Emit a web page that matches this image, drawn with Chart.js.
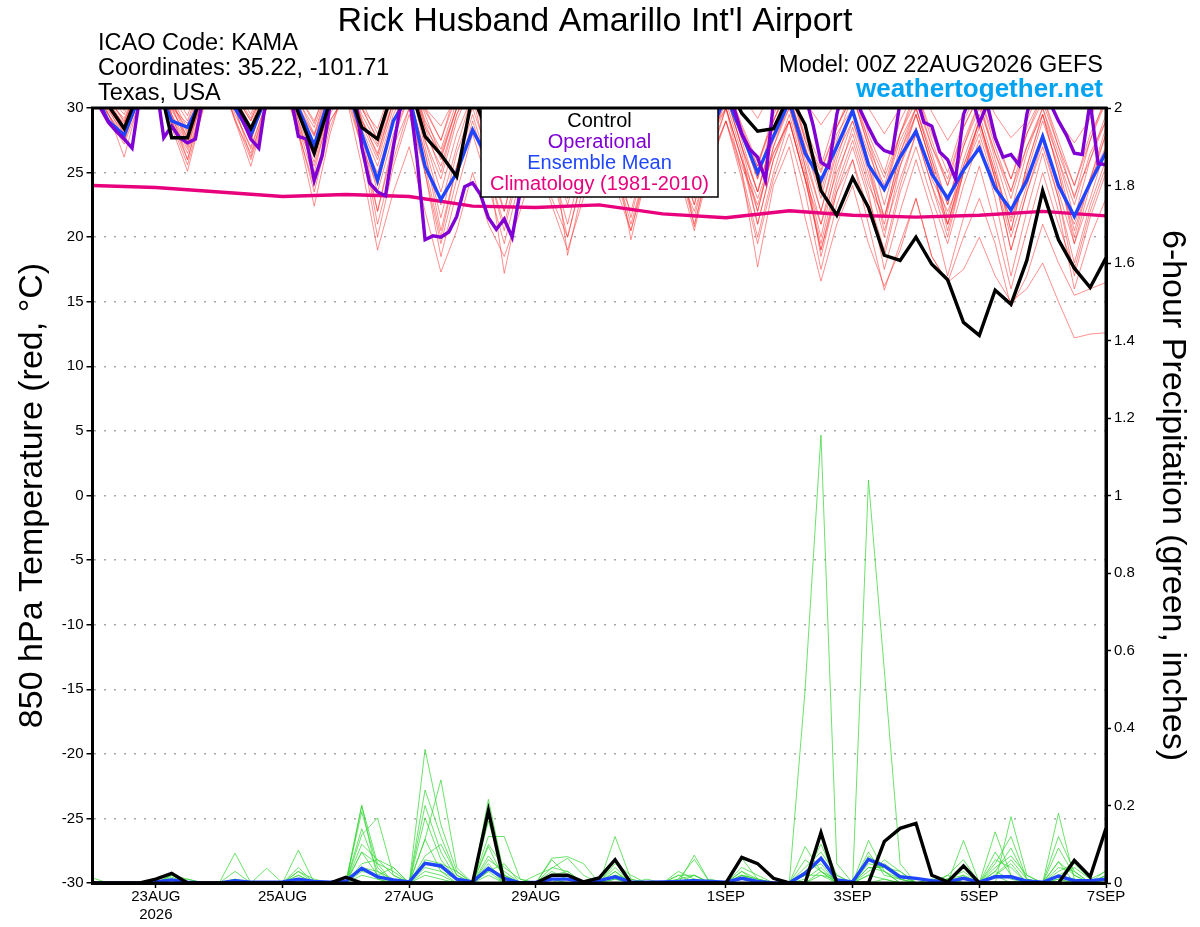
<!DOCTYPE html>
<html>
<head>
<meta charset="utf-8">
<title>KAMA GEFS 850 hPa temperature and 6-hour precipitation</title>
<script src="https://cdn.jsdelivr.net/npm/chart.js@4.4.1/dist/chart.umd.min.js"></script>
<style>
  html, body { margin: 0; padding: 0; background: #fff; }
  #wrap { width: 1200px; height: 927px; }
</style>
</head>
<body>
<div id="wrap"><canvas id="myChart" width="1200" height="927"></canvas></div>
<script>
const FONT = "'Liberation Sans', Arial, Helvetica, sans-serif";

// x axis is in 6-hour steps from 00Z 22AUG2026 (0) to 00Z 7SEP2026 (64)
const xTickSteps = [4, 12, 20, 28, 40, 48, 56, 64];
const xTickLabels = [['23AUG', '2026'], '25AUG', '27AUG', '29AUG', '1SEP', '3SEP', '5SEP', '7SEP'];

// 850 hPa temperature (C), 6-hourly
const controlTemp = [33,30.2,28.4,31.5, 33,27.7,27.7,31.5, 33,30.5,28.4,31, 33,29.6,26.5,30.5,
  32,28.5,27.6,31.5, 32,27.8,26.4,24.7, 31,28,26,29, 32,30,27,29, 32,30,27,29, 32,30,27,29,
  32,29.6,28.2,28.4, 31,28.7,23.6,21.7, 24.6,22.3,18.6,18.2, 20.0,17.9,16.7,13.4,
  12.4,15.9,14.8,18.2, 23.6,19.8,17.6,16.1, 18.4];
const meanTemp = [31.5,29,27.9,31, 32,29.0,28.5,31, 32,30,27.9,31, 32,30,27.1,31,
  32,28,24.4,29, 31,25.5,22.9,25.0, 28.3,26,25,28, 30,28,26,28, 30,28,26,28, 30,28,26,28,
  31,28,25.0,27.8, 30.5,26.5,24.4,27, 29.8,25.6,23.7,26.2, 28.2,24.9,23.0,25.2,
  26.9,23.8,22.1,24.4, 27.8,24.0,21.6,24.2, 26.6];
// operational run, 3-hourly
const operationalTemp = [31,30,28.9,28.2,27.6,26.9,31,33, 32,27.7,28.6,27.7,27.3,27.6,31,33,
  33,32,31,29,27.6,26.9,31,33, 32,31,27.8,27.6,24.4,26.3,30.2,33,
  33,32,27,24.2,23.5,23.2,27,30.5, 31,26,19.8,20.1,20.0,20.4,21.6,23.9,
  24.2,23.3,21.5,20.6,21.4,20.0,23.5,27, 31,32,30,28,26,27.5,30,32,
  33,32,30,28,26.5,28,30.5,32, 33,32,30,28,26,27.5,30,32,
  32,30,28,26.8,26.2,24.4,30.5,33, 33,32,31,28.7,25.8,25.4,29.5,32,
  33,29.8,28.5,27.3,26.7,26.5,30.5,32, 31,28.9,28.6,26.6,26.0,24.5,29.5,31,
  28.8,30.3,27.7,26.2,26.4,25.6,29.5,32, 31,30.3,29.0,27.9,26.5,26.4,30.5,25.7, 25.6];
// climatology 1981-2010, daily at 00Z
const climTemp = [24.0,23.85,23.5,23.15,23.3,23.15,22.4,22.3,22.5,21.8,21.5,22.05,21.7,21.55,21.7,22.0,21.65];

// ensemble members, 850 hPa temperature
const tempM01 = [32,30.5,29.2,32, 34,30,28.8,32, 34,31,29,32, 34,30.5,28.5,32, 34,30,28.4,32, 34,30,28.6,31, 33,30,28.5,31, 34,31,28.7,31.5, 34,31,29,32, 34,31,28.8,32, 34,31,29.2,31.5, 33,30.5,28.7,30.5, 33,30,28,30, 33,29.7,27.5,29.5, 32,29.5,27.7,29, 32,29,27.3,29.2, 32];
const tempM02 = [31.5,29.8,28.0,31, 33,29,26.5,30.5, 33,30,27.5,31, 33,29.5,26.8,30.5, 33,28.8,26.0,30, 33,28,25.5,29.5, 32,28.5,26.0,29.8, 33,29.5,27,30, 33,30,27.5,30.5, 33,29,26.5,30, 32,28.7,25.8,29, 32,27.8,25.2,28.5, 31,27.5,24.6,28, 31,27,24,27.4, 30.5,26.5,23.6,27, 30,26.5,23.2,26, 29];
const tempM03 = [32,30,27.6,31.5, 33,29.5,27.3,31, 33,30,27.8,31, 32,28,24.0,29, 31,25.5,19.0,23.5, 27,22,17.3,20.5, 25,21,18.5,22, 26,22.5,19,23, 27,24,20.5,25, 28,25,22,26, 29,25.5,22.5,26.5, 29,24.5,21,25, 28,24,21.5,25.5, 28.5,24.5,22,25, 28,24,21.5,24.8, 27.5,24,21,24.5, 27];
const tempM04 = [33,30.4,28.6,32, 34,29.8,27.8,31.5, 33,30.6,28.3,31, 33,29,26.2,30, 32,27.5,25.0,29, 32,27,22.5,27, 31,25.5,17.2,23, 27,23,20,25, 30,26.5,24,28, 31,27.5,24,28, 30,25,17.7,24, 27,21.5,16.6,21, 24,19.5,16.2,19, 23,18.5,16.5,20, 23,19.5,14.6,17, 21,18,15.5,16, 16.5];
const tempM05 = [32.5,30,28.2,31.5, 33.5,30.5,28,31.5, 33.5,30,27.6,31, 33,30,27.8,31, 33,29,27,30.5, 33,28.5,26.5,30, 32,28,25,28.5, 31,27,24.5,28, 31,27.5,24.5,28.5, 31,27,24,27.5, 30,26,23,26.5, 29,24.5,19,23.5, 26,21,15.9,19.5, 23,18.5,16.5,17.5, 20,17,15,16, 18,15,12.2,12.5, 12.6];
const tempM06 = [31,29.5,27.8,31, 33,28.5,25.1,30, 33,29,25.5,30, 33,28,22.4,28, 32,27,24,29, 32,27.5,23.5,28, 31,27,23.5,27.5, 31,27.5,18.6,24, 29,25,22,26.5, 30,26,22.5,27, 31,27,23.5,28, 31,26.5,22,27, 30,26,21.5,26.5, 29.5,25.5,21,25, 29,24.5,20,24, 28,23.5,19.5,23, 27];
const tempM07 = [32,30.2,28.8,31.5, 34,30.5,28.2,32, 34,30.8,28.6,32, 34,30.2,27.9,31.5, 33,29.5,27.2,31, 33,29,26.8,30.5, 33,29.5,27,31, 33,30,27.5,31, 32.5,29,25.5,29.5, 31,27.5,24.5,28.5, 31,27,23.5,27.5, 30,26,22,26.5, 29,25.5,20.5,24.5, 28,24,21,25.5, 29,25,21.2,25, 29,25.5,20.5,24.5, 28];
const tempM08 = [31.8,29.6,26.2,30.8, 33,29.2,26.8,31, 33,29.5,27,30.5, 32,28.5,25.5,29.5, 32,27.5,21,26, 30,25,19.5,24.5, 29,25,21,26, 30,26.5,22.5,27, 30,26.5,19.8,25, 29,25.5,21,26, 29,25,20,25, 29,24.5,19.5,24.5, 28.5,24.5,20,25.5, 29.5,25.5,21,25.5, 29,25,20.5,25.5, 29.5,25,19.5,24, 28];
const tempM09 = [32.2,30.8,29.0,32, 34,30.2,27.2,31.5, 34,30.4,27.9,31.5, 33,29.6,27.0,31, 33,28.4,25.5,29.5, 32,27.5,24.5,29, 32,28,24.5,29, 32,28.5,25,29.5, 32,28,24.5,29, 31,27,20.8,26, 30,26,22,27, 30.5,25.5,21,26, 30,25.5,21.5,26.5, 30,26.5,22.5,27, 30.5,26,22,26.5, 30,26,21.5,26, 29.5];
const tempM10 = [32.8,31,29.5,32.5, 34,31,29,32.5, 34,31.2,29.2,32.5, 34,31,29,32, 34,30.5,28,31.5, 34,30,27.5,31, 33,29.5,27,30.5, 33,29.5,26.5,30, 32.5,29,26,29.5, 32,28.5,25.5,29, 32,28,25.5,29, 31.5,27.5,25,28.5, 31,27,24,28, 30.5,27,24.5,28.5, 31,27.5,24.5,28, 30.5,27,24,27.5, 30.5];
const tempM11 = [31.6,29.5,27.5,31, 33,29.4,27,31, 33,29.8,26.8,30.5, 32.5,28.7,25.8,30, 32,28,23.5,28, 31,26.5,20.5,25.5, 29.5,25.5,22,27, 31,27,23.5,28, 31,27,21.5,26.5, 30,26,23,27.5, 31,27,22,27, 30,25.5,18.5,23.5, 27,23,19,24, 28,24,20,25, 29,24.5,19,23.5, 27,23,17,21.5, 25];
const tempM12 = [32,30.6,28.6,32, 34,30.8,28.4,32, 34,31,29,32, 34,30.6,28,32, 33.5,30,27.5,31.5, 33,29.5,26.2,30, 32,28.5,25.5,29.5, 32,29,26,30, 32,28.5,25.5,29.5, 32,28.5,25,29, 31.5,28,24.5,28.5, 31,27,23.5,28, 30,26.5,23.5,27.5, 30,26,22.5,27, 30,26.5,23,27, 29.5,26,22.5,26.5, 29];
const tempM13 = [33,31,29.8,33, 35,31.5,29.4,33, 35,31.5,29.5,33, 34.5,31,28.8,32.5, 34,30,27.6,32, 33.5,29.8,27.5,31.5, 33,30,27.8,31.5, 33.5,30,27,31, 33,29.5,26.5,30.5, 32.5,29,26,30, 32,28.5,25.5,29.5, 32,28.5,25.5,29.5, 32,28,25,29, 31.5,28,25,29, 31.5,28,24.5,28.5, 31,27.5,24,28, 30.5];
const tempM14 = [31.8,29.5,27.4,31, 33,29,26,30.5, 32.5,29,26.5,30, 32,28.5,24.5,29, 31,27,22,27, 30,25.5,20,25.5, 28.5,25,20.5,25.5, 29,25.5,21,26, 29.5,25.5,21,25.5, 29,25,20.5,25.5, 29,24.5,19.5,24.5, 28,23.5,17.5,22.5, 26,22,18.5,23.5, 27,23,19.5,24, 27.5,23,17,22, 26.5,22,16,20, 23];
const tempM15 = [32.5,30.2,28,31.5, 33.5,29.5,26,30.5, 33.5,30,26.2,30.5, 33,29,25,30, 32.5,28,22,27.5, 31,26.5,21.5,26.5, 30,26.5,22,27, 31,27.5,23,28, 31.5,27.5,23,28, 31,27,22.5,27.5, 30.5,26.5,21,26, 29.5,25,20,25.5, 29,25,21,26, 29.5,25.5,20.5,25, 28.5,24.5,19,23.5, 27.5,23,18,22.5, 26];
const tempM16 = [33,30.8,28.9,32, 34,30.5,27.6,31.5, 34,30.7,28.1,32, 33.5,30,27.3,31.5, 33,29.2,26.3,30.5, 32.5,28.5,25,29.5, 32,28.5,25.5,30, 32.5,29,26,30, 32,28.5,25,29.5, 32,28,24,28.5, 31.5,27.5,23.5,28, 31,27,23,27.5, 31,27,22.5,27, 30,26,21.5,26, 29.5,25.5,20.5,25.5, 29.5,25,20,24.5, 28.5];
const tempM17 = [31.2,29.2,27.2,30.5, 32.5,28.8,25.6,30, 32.5,29.2,26,30, 32,28.2,23.5,28.5, 31.5,27,20,25.5, 29.5,25,18.5,23.5, 28,24,19.5,24.5, 29,25,20,25, 29,25,20.5,25.5, 29.5,25.5,21.5,26.5, 30,26,21,26, 29,24.5,19,24, 27.5,23.5,17.5,22, 26,22,17,21.5, 25.5,21,16,20.5, 25,21,17.5,22, 25.5];
const tempM18 = [32.4,30.3,28.3,31.8, 33.8,30,27.5,31.8, 33.8,30.3,27.4,31.5, 33.5,29.8,26.8,31, 33,29,26.5,30.5, 33,28.8,26,30, 32.5,29,26.5,30.5, 33,29.5,26.8,30.5, 33,29,26,30, 32.5,28.5,25,29.5, 32,28,24.5,29, 32,27.5,24,28.5, 31.5,27.5,23.5,28, 31.5,27.5,24,28.5, 31,27,23.5,28, 31,27,23,27.5, 31];

// 6-hour precipitation (inches)
const controlPrecip = [0,0,0,0, 0.01,0.025,0,0, 0,0,0,0, 0,0,0,0, 0.015,0,0,0, 0,0,0,0,
  0,0.187,0,0, 0,0.02,0.02,0.003, 0.013,0.06,0,0, 0,0,0,0, 0,0.066,0.05,0.012,
  0,0,0.13,0, 0,0,0.107,0.141, 0.154,0.02,0.003,0.044, 0,0,0,0, 0,0,0.058,0.016, 0.141];
const meanPrecip = [0,0,0,0, 0.003,0.008,0.002,0, 0,0.006,0.002,0.002, 0.003,0.01,0.004,0.002,
  0.005,0.038,0.016,0.008, 0.003,0.051,0.044,0.01, 0.003,0.038,0.012,0, 0.002,0.01,0.01,0.002,
  0.006,0.016,0.002,0.002, 0.003,0.004,0.006,0.004, 0.002,0.012,0.004,0, 0,0.025,0.064,0.008,
  0.003,0.061,0.044,0.016, 0.012,0.006,0.003,0.012, 0.002,0.016,0.016,0.005, 0.002,0.018,0.006,0.006, 0.01];

const precipM01 = [0,0,0,0, 0,0.01,0,0, 0,0,0,0, 0,0,0,0, 0,0.2,0.05,0, 0,0.02,0.01,0, 0,0.03,0,0, 0,0.01,0,0, 0,0.02,0,0, 0,0,0.01,0, 0,0.02,0.01,0, 0,0.5,1.156,0.05, 0,0,0.01,0, 0,0,0.01,0, 0,0.02,0,0, 0,0.01,0,0, 0];
const precipM02 = [0,0,0,0, 0,0,0,0, 0,0.077,0,0, 0,0,0,0, 0,0.08,0.02,0, 0,0.24,0.12,0.02, 0,0.02,0,0, 0,0,0,0, 0,0.01,0,0, 0,0,0,0.01, 0,0,0,0, 0,0,0.02,0, 0,1.04,0.55,0.05, 0,0,0.02,0, 0,0,0,0, 0,0.02,0,0, 0];
const precipM03 = [0.013,0,0,0, 0,0.02,0,0, 0,0,0,0, 0,0.085,0,0, 0,0.184,0.04,0, 0,0.345,0.15,0.03, 0,0.216,0.02,0, 0,0.06,0.02,0, 0,0.12,0.01,0, 0,0,0.02,0, 0,0.03,0.01,0, 0,0.02,0.1,0.01, 0,0.11,0.03,0, 0,0,0,0.01, 0,0.132,0.02,0, 0,0.055,0,0, 0.01];
const precipM04 = [0,0,0,0, 0,0.015,0,0, 0,0,0,0.038, 0,0,0,0, 0,0.124,0.168,0.02, 0,0.113,0.266,0.04, 0,0.094,0.01,0, 0,0.064,0.068,0.05, 0,0.02,0,0, 0,0.01,0.061,0, 0,0.064,0.01,0, 0,0.094,0.03,0, 0,0.02,0.01,0, 0,0,0,0.11, 0,0,0.171,0.02, 0,0.18,0.01,0, 0.02];
const precipM05 = [0,0,0,0, 0,0.02,0,0, 0,0,0,0, 0,0.02,0,0, 0,0.04,0.03,0.01, 0,0.168,0.06,0.01, 0,0.12,0.12,0.01, 0,0.01,0,0, 0,0.06,0,0, 0,0,0.072,0, 0,0.01,0,0, 0,0.01,0.04,0, 0,0.05,0.04,0.01, 0,0,0,0.02, 0,0.03,0.09,0.01, 0,0.055,0.02,0, 0.033];
const precipM06 = [0,0,0,0, 0,0.01,0,0, 0,0,0,0, 0,0.01,0,0, 0,0.2,0.01,0, 0,0.05,0.04,0.01, 0,0.04,0,0, 0.02,0.038,0.064,0.02, 0,0.03,0,0, 0,0.02,0.02,0, 0,0.02,0,0, 0,0.02,0.06,0.01, 0,0.03,0.05,0.02, 0,0.01,0,0, 0,0.08,0.02,0, 0,0.02,0.04,0.01, 0];
const precipM07 = [0,0,0,0, 0,0,0.01,0, 0,0.01,0,0, 0,0.03,0,0, 0,0.08,0.05,0.03, 0,0.113,0.03,0.01, 0,0.05,0,0, 0,0.02,0.03,0, 0,0.04,0,0.01, 0,0,0,0, 0,0.04,0.02,0, 0,0,0.03,0.01, 0,0.07,0.04,0.03, 0,0,0.01,0, 0,0.02,0.06,0.01, 0,0.12,0.03,0, 0.01];
const precipM08 = [0,0,0,0, 0,0,0,0, 0,0,0,0, 0,0,0,0, 0,0.05,0.06,0.02, 0,0.07,0.1,0.02, 0,0.06,0.03,0, 0,0,0.02,0, 0,0.02,0,0, 0,0,0.01,0, 0,0,0,0, 0,0.03,0.05,0, 0,0.04,0.04,0.02, 0,0,0,0, 0,0.05,0.12,0.01, 0,0.04,0.03,0, 0.02];
const precipM09 = [0,0,0,0, 0,0,0,0, 0,0.01,0,0, 0,0.02,0,0, 0,0.03,0.02,0.04, 0,0.03,0.02,0, 0,0.03,0.05,0, 0,0.02,0.02,0, 0,0.03,0,0, 0,0.02,0,0, 0,0.03,0,0, 0,0.02,0.02,0.01, 0,0.04,0.03,0.01, 0,0,0.02,0.06, 0,0.03,0.01,0, 0,0.02,0.01,0, 0.01];
const precipM10 = [0,0,0,0, 0,0,0,0, 0,0,0,0, 0,0,0,0, 0,0.02,0.01,0, 0,0.04,0.03,0, 0,0.16,0.02,0, 0,0,0,0, 0,0.05,0.02,0, 0,0,0,0, 0,0.02,0.01,0, 0,0,0.12,0.02, 0,0.06,0.03,0, 0,0,0,0, 0,0.02,0.05,0, 0,0.01,0,0, 0];
const precipM11 = [0,0,0,0, 0,0.02,0.01,0, 0,0,0,0, 0,0.03,0.01,0, 0,0.1,0.06,0.04, 0,0.06,0.05,0.03, 0,0.07,0.02,0, 0,0.03,0.01,0, 0,0.02,0.01,0, 0,0.03,0.01,0, 0,0.02,0,0, 0,0.06,0.03,0, 0,0.02,0.06,0.03, 0,0.01,0.01,0.02, 0,0.04,0.07,0.02, 0,0.09,0.02,0, 0.02];
const precipM12 = [0,0,0,0, 0,0.01,0,0, 0,0.03,0,0, 0,0.04,0,0, 0,0.14,0.03,0, 0,0.2,0.08,0.01, 0,0.1,0.04,0.01, 0,0.04,0.03,0, 0,0.01,0,0, 0,0.01,0.02,0, 0,0.01,0,0, 0,0.04,0.08,0.02, 0,0.08,0.02,0.01, 0,0,0.01,0.03, 0,0.06,0.04,0, 0,0.03,0.05,0.01, 0.03];

const tempMembers = [tempM01, tempM02, tempM03, tempM04, tempM05, tempM06, tempM07, tempM08, tempM09,
  tempM10, tempM11, tempM12, tempM13, tempM14, tempM15, tempM16, tempM17, tempM18];
const precipMembers = [precipM01, precipM02, precipM03, precipM04, precipM05, precipM06,
  precipM07, precipM08, precipM09, precipM10, precipM11, precipM12];

const legendItems = ['Control', 'Operational', 'Ensemble Mean', 'Climatology (1981-2010)'];
const legendColors = ['#000000', '#8000d4', '#1f45ff', '#e8007d'];

// values -> {x, y}; step is how many 6-hour units between values
const toPoints = (vals, step) => vals.map((v, i) => ({ x: i * step, y: v }));

const datasets = [];
tempMembers.forEach((m, k) => datasets.push({
  label: 'Temp member ' + (k + 1), data: toPoints(m, 1), yAxisID: 'yT',
  borderColor: 'rgba(255,40,40,0.65)', borderWidth: 0.8, order: 9
}));
precipMembers.forEach((m, k) => datasets.push({
  label: 'Precip member ' + (k + 1), data: toPoints(m, 1), yAxisID: 'yP',
  borderColor: 'rgba(50,215,50,0.9)', borderWidth: 0.8, order: 8
}));
datasets.push({ label: 'Climatology (1981-2010)', data: toPoints(climTemp, 4), yAxisID: 'yT',
  borderColor: '#e8007d', borderWidth: 3.4, order: 4 });
datasets.push({ label: 'Ensemble Mean', data: toPoints(meanTemp, 1), yAxisID: 'yT',
  borderColor: '#1f45ff', borderWidth: 3.4, order: 3 });
datasets.push({ label: 'Operational', data: toPoints(operationalTemp, 0.5), yAxisID: 'yT',
  borderColor: '#8000d4', borderWidth: 3.4, order: 2 });
datasets.push({ label: 'Control', data: toPoints(controlTemp, 1), yAxisID: 'yT',
  borderColor: '#000000', borderWidth: 3.4, order: 1 });
datasets.push({ label: 'Ensemble Mean precip', data: toPoints(meanPrecip, 1), yAxisID: 'yP',
  borderColor: '#1f45ff', borderWidth: 3.4, order: 3 });
datasets.push({ label: 'Control precip', data: toPoints(controlPrecip, 1), yAxisID: 'yP',
  borderColor: '#000000', borderWidth: 3.4, order: 1 });

// legend box, plot frame and header text
const chartDecor = {
  id: 'chartDecor',
  afterDatasetsDraw(chart) {
    const { ctx, chartArea: a } = chart;
    ctx.save();
    ctx.fillStyle = '#fff';
    ctx.fillRect(481, a.top, 237, 89);
    ctx.strokeStyle = '#000';
    ctx.lineWidth = 1.5;
    ctx.strokeRect(481, a.top, 237, 89);
    ctx.font = '20px ' + FONT;
    ctx.textAlign = 'center';
    ctx.textBaseline = 'middle';
    legendItems.forEach((t, k) => {
      ctx.fillStyle = legendColors[k];
      ctx.fillText(t, 599.5, a.top + 13 + k * 21.3);
    });
    ctx.lineWidth = 3;
    ctx.strokeRect(a.left, a.top, a.right - a.left, a.bottom - a.top);
    ctx.restore();
  },
  afterDraw(chart) {
    const ctx = chart.ctx;
    ctx.save();
    ctx.fillStyle = '#000';
    ctx.textBaseline = 'alphabetic';
    ctx.textAlign = 'center';
    ctx.font = '34px ' + FONT;
    ctx.fillText("Rick Husband Amarillo Int'l Airport", 595, 31);
    ctx.textAlign = 'left';
    ctx.font = '23.5px ' + FONT;
    ctx.fillText('ICAO Code: KAMA', 98, 50);
    ctx.fillText('Coordinates: 35.22, -101.71', 98, 75);
    ctx.fillText('Texas, USA', 98, 100);
    ctx.textAlign = 'right';
    ctx.fillText('Model: 00Z 22AUG2026 GEFS', 1103, 72);
    ctx.font = 'bold 26px ' + FONT;
    ctx.fillStyle = '#00a2f2';
    ctx.fillText('weathertogether.net', 1103, 97);
    ctx.restore();
  }
};

const tickFont = { family: FONT, size: 15 };

const config = {
  type: 'line',
  data: { datasets: datasets },
  options: {
    responsive: false,
    animation: false,
    devicePixelRatio: 1,
    layout: { padding: { top: 108, left: 0, right: 0, bottom: 0 } },
    plugins: { legend: { display: false }, tooltip: { enabled: false } },
    elements: { point: { radius: 0 }, line: { tension: 0, fill: false } },
    scales: {
      x: {
        type: 'linear', min: 0, max: 64,
        afterBuildTicks: s => { s.ticks = xTickSteps.map(v => ({ value: v })); },
        afterFit: s => { s.height = 44; },
        ticks: {
          autoSkip: false, maxRotation: 0, padding: 0, color: '#000', font: tickFont,
          callback: v => xTickLabels[xTickSteps.indexOf(v)]
        },
        grid: { drawOnChartArea: false, tickLength: 5, tickColor: '#000', tickWidth: 1.5 },
        border: { display: true, color: '#000', width: 3 }
      },
      yT: {
        position: 'left', min: -30, max: 30,
        afterFit: s => { s.width = 92.5; },
        ticks: { stepSize: 5, padding: 3, color: '#000', font: tickFont },
        grid: { color: '#a8a8a8', lineWidth: 1.5, tickLength: 6, tickColor: '#000', tickWidth: 1.5 },
        border: { display: true, color: '#000', width: 3, dash: [2, 8] },
        title: {
          display: true, text: '850 hPa Temperature (red, °C)', color: '#000',
          font: { family: FONT, size: 34 }, padding: { top: 12.6, bottom: 0 }
        }
      },
      yP: {
        position: 'right', min: 0, max: 2,
        afterFit: s => { s.width = 94; },
        ticks: {
          stepSize: 0.2, padding: 3, color: '#000', font: tickFont,
          callback: v => String(Math.round(v * 10) / 10)
        },
        grid: { drawOnChartArea: false, tickLength: 5, tickColor: '#000', tickWidth: 1.5 },
        border: { display: true, color: '#000', width: 3 },
        title: {
          display: true, text: '6-hour Precipitation (green, inches)', color: '#000',
          font: { family: FONT, size: 34 }, padding: { top: 7.6, bottom: 0 }
        }
      }
    }
  },
  plugins: [chartDecor]
};

const myChart = new Chart(document.getElementById('myChart'), config);
</script>
</body>
</html>
